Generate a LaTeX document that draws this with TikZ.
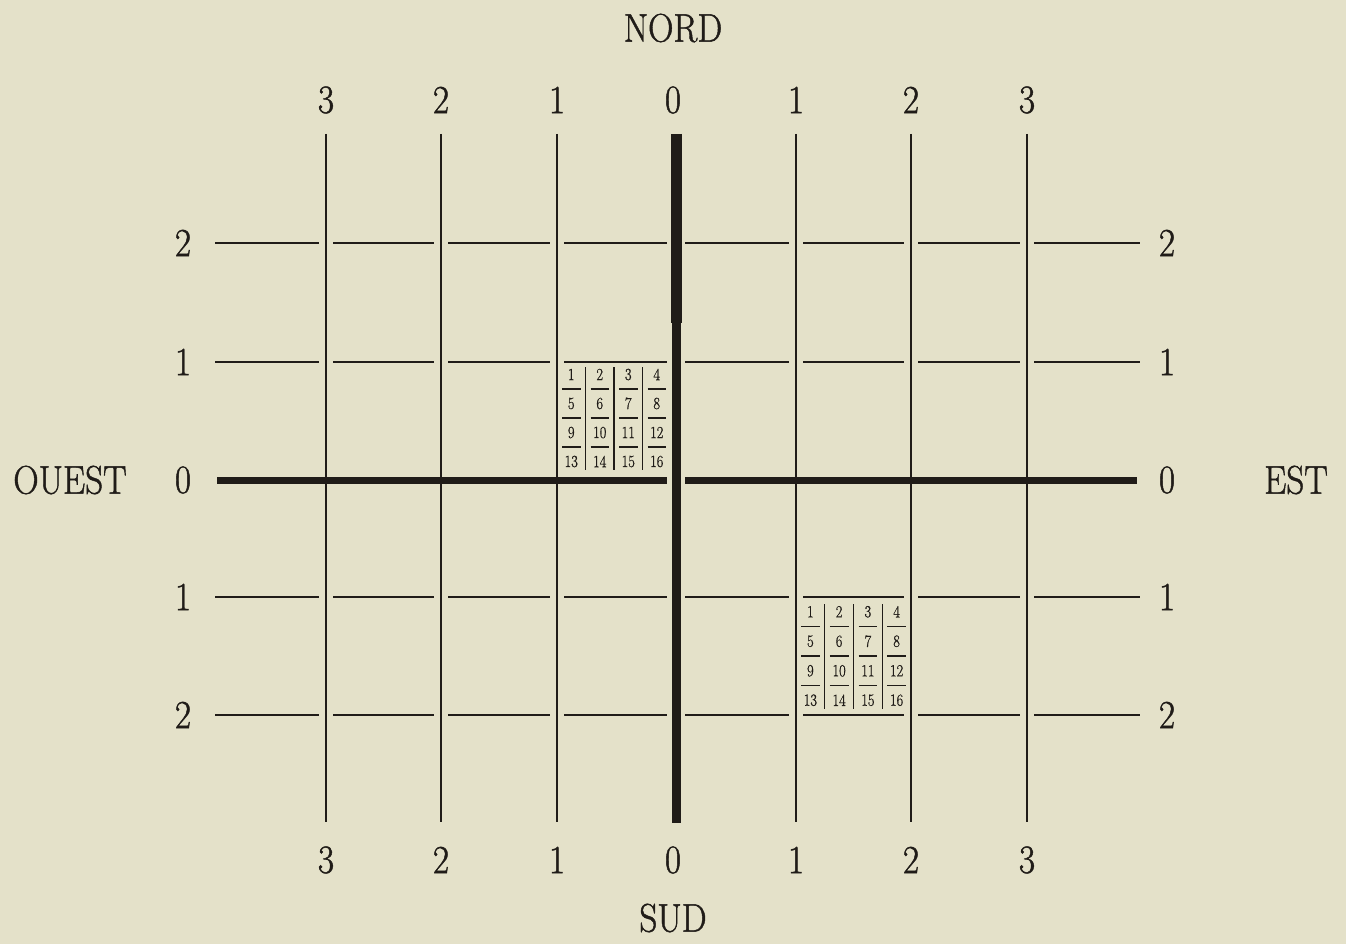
\documentclass[tikz,border=0pt]{standalone}
\usepackage{fontspec}
\usepackage{graphicx}
\setmainfont{Latin Modern Roman}
\definecolor{paper}{RGB}{228,225,201}
\definecolor{ink}{RGB}{32,28,24}
\newcommand\cond[1]{\scalebox{0.88}[1]{#1}}
\newcommand\condsm[1]{\scalebox{0.85}[1]{#1}}
\begin{document}
\begin{tikzpicture}[x=1pt,y=-1pt,
  gridline/.style={draw=ink,line width=1.8pt},
  axisline/.style={draw=ink,line width=7pt},
  big/.style={text=ink,inner sep=0pt,font=\fontsize{40}{40}\selectfont\addfontfeature{FakeBold=1.2}},
  small/.style={text=ink,inner sep=0pt,font=\fontsize{17}{17}\selectfont\addfontfeature{FakeBold=1}},
  boxline/.style={draw=ink,line width=1.3pt},
]
\fill[paper] (0,0) rectangle (1346,944);
\useasboundingbox (0,0) rectangle (1346,944);

% cardinal labels
\node[big] (nord)  at (673,28)  {\cond{NORD}};
\node[big] (sud)   at (673,918) {\cond{SUD}};
\node[big] (ouest) at (70,480)  {\cond{OUEST}};
\node[big] (est)   at (1296,480) {\cond{EST}};

% top and bottom numbers
\foreach \x/\t [count=\i] in {326/3,441/2,557/1,673/0,796/1,911/2,1027/3}{
  \node[big] (top\i) at (\x,100) {\cond{\t}};
  \node[big] (bot\i) at (\x,860) {\cond{\t}};
}
% side numbers
\foreach \y/\t [count=\i] in {243/2,362/1,480/0,597/1,715/2}{
  \node[big] (left\i)  at (183,\y)  {\cond{\t}};
  \node[big] (right\i) at (1167,\y) {\cond{\t}};
}

% thin vertical lines
\foreach \x in {326,441,557,796,911,1027}{
  \draw[gridline] (\x,134) -- (\x,822);
}
% thin horizontal segments (broken at the verticals)
\foreach \y in {243,362,597,715}{
  \foreach \a/\b in {215/319,333/434,448/550,564/667,685/789,803/904,918/1020,1034/1140}{
    \draw[gridline] (\a,\y) -- (\b,\y);
  }
}
% thick axes
\draw[axisline] (217,480) -- (667,480);
\draw[axisline] (685,480) -- (1137,480);
\draw[draw=ink,line width=9pt] (676,323) -- (676,823);
\draw[draw=ink,line width=11pt] (676,134) -- (676,323);

% small numbered squares
\foreach \bx/\by/\bw/\bh in {557/360/114/116, 796/597/115/118}{
  \pgfmathsetmacro\cw{\bw/4}
  \pgfmathsetmacro\rh{\bh/4}
  \foreach \c in {1,2,3}{
    \draw[boxline] ({\bx+\c*\cw},{\by+7}) -- ({\bx+\c*\cw},{\by+\bh-6});
  }
  \foreach \c in {0,1,2,3}{
    \foreach \r in {1,2,3}{
      \draw[boxline] ({\bx+\c*\cw+5},{\by+\r*\rh}) -- ({\bx+(\c+1)*\cw-5},{\by+\r*\rh});
    }
    \foreach \r in {0,1,2,3}{
      \pgfmathtruncatemacro\n{4*\r+\c+1}
      \node[small] at ({\bx+(\c+0.5)*\cw},{\by+(\r+0.5)*\rh}) {\condsm{\n}};
    }
  }
}
\end{tikzpicture}
\end{document}
